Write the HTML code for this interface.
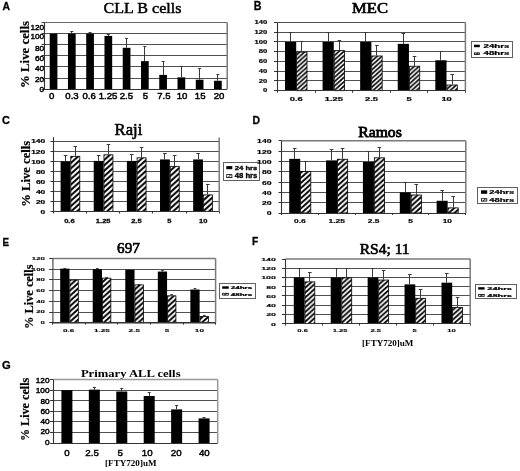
<!DOCTYPE html>
<html><head><meta charset="utf-8"><style>
html,body{margin:0;padding:0;background:#fff;}
body{width:520px;height:471px;overflow:hidden;}
svg{display:block;filter:grayscale(1);}
</style></head><body>
<svg width="520" height="471" viewBox="0 0 520 471">
<defs>
<pattern id="hatch" patternUnits="userSpaceOnUse" width="4.3" height="4.3">
<rect width="4.3" height="4.3" fill="#fff"/>
<path d="M-1.075,1.075 L1.075,-1.075 M0,4.3 L4.3,0 M3.225,5.375 L5.375,3.225" stroke="#000" stroke-width="1.45"/>
</pattern>
<pattern id="hatch2" patternUnits="userSpaceOnUse" width="3" height="3">
<rect width="3" height="3" fill="#fff"/>
<path d="M-0.75,0.75 L0.75,-0.75 M0,3 L3,0 M2.25,3.75 L3.75,2.25" stroke="#000" stroke-width="1"/>
</pattern>
<pattern id="hB" patternUnits="userSpaceOnUse" width="4.831" height="4.350"><rect width="4.831" height="4.350" fill="#fff"/><path d="M-1.208,1.087 L1.208,-1.087 M0,4.350 L4.831,0 M3.623,5.438 L6.039,3.262" stroke="#000" stroke-width="1.616"/></pattern><pattern id="hC" patternUnits="userSpaceOnUse" width="5.997" height="5.400"><rect width="5.997" height="5.400" fill="#fff"/><path d="M-1.499,1.350 L1.499,-1.350 M0,5.400 L5.997,0 M4.498,6.750 L7.497,4.050" stroke="#000" stroke-width="2.006"/></pattern><pattern id="hD" patternUnits="userSpaceOnUse" width="5.664" height="5.100"><rect width="5.664" height="5.100" fill="#fff"/><path d="M-1.416,1.275 L1.416,-1.275 M0,5.100 L5.664,0 M4.248,6.375 L7.080,3.825" stroke="#000" stroke-width="1.895"/></pattern><pattern id="hE" patternUnits="userSpaceOnUse" width="5.775" height="5.200"><rect width="5.775" height="5.200" fill="#fff"/><path d="M-1.444,1.300 L1.444,-1.300 M0,5.200 L5.775,0 M4.331,6.500 L7.219,3.900" stroke="#000" stroke-width="1.932"/></pattern><pattern id="hF" patternUnits="userSpaceOnUse" width="5.386" height="4.850"><rect width="5.386" height="4.850" fill="#fff"/><path d="M-1.347,1.212 L1.347,-1.212 M0,4.850 L5.386,0 M4.040,6.062 L6.733,3.637" stroke="#000" stroke-width="1.802"/></pattern>
</defs>
<rect width="520" height="471" fill="#fff"/>
<text transform="translate(2.50,10.00) scale(0.898,1)" font-family='"Liberation Sans", sans-serif' font-weight="bold" font-size="11.59" fill="#000" stroke="#000" stroke-width="0.3">A</text>
<text transform="translate(103.60,13.34) scale(1.035,1)" font-family='"Liberation Serif", serif' font-weight="normal" font-size="15.52" fill="#000" stroke="#000" stroke-width="0.5">CLL B cells</text>
<line x1="44.60" y1="78.50" x2="227.20" y2="78.50" stroke="#505050" stroke-width="1.0"/>
<line x1="44.60" y1="66.50" x2="227.20" y2="66.50" stroke="#505050" stroke-width="1.0"/>
<line x1="44.60" y1="55.50" x2="227.20" y2="55.50" stroke="#505050" stroke-width="1.0"/>
<line x1="44.60" y1="44.50" x2="227.20" y2="44.50" stroke="#505050" stroke-width="1.0"/>
<line x1="44.60" y1="33.50" x2="227.20" y2="33.50" stroke="#505050" stroke-width="1.0"/>
<line x1="44.60" y1="22.50" x2="227.20" y2="22.50" stroke="#6a6a6a" stroke-width="1.0"/>
<line x1="227.20" y1="22.50" x2="227.20" y2="89.10" stroke="#7a7a7a" stroke-width="1.5"/>
<rect x="49.70" y="33.60" width="7.70" height="55.50" fill="#000"/>
<line x1="53.50" y1="33.32" x2="53.50" y2="33.60" stroke="#383838" stroke-width="1"/>
<line x1="52.05" y1="33.50" x2="55.05" y2="33.50" stroke="#383838" stroke-width="1"/>
<rect x="67.96" y="33.60" width="7.70" height="55.50" fill="#000"/>
<line x1="71.50" y1="31.05" x2="71.50" y2="33.60" stroke="#383838" stroke-width="1"/>
<line x1="70.31" y1="31.50" x2="73.31" y2="31.50" stroke="#383838" stroke-width="1"/>
<rect x="86.22" y="33.60" width="7.70" height="55.50" fill="#000"/>
<line x1="90.50" y1="32.49" x2="90.50" y2="33.60" stroke="#383838" stroke-width="1"/>
<line x1="88.57" y1="32.50" x2="91.57" y2="32.50" stroke="#383838" stroke-width="1"/>
<rect x="104.48" y="35.93" width="7.70" height="53.17" fill="#000"/>
<line x1="108.50" y1="34.43" x2="108.50" y2="35.93" stroke="#383838" stroke-width="1"/>
<line x1="106.83" y1="34.50" x2="109.83" y2="34.50" stroke="#383838" stroke-width="1"/>
<rect x="122.74" y="47.81" width="7.70" height="41.29" fill="#000"/>
<line x1="126.50" y1="38.59" x2="126.50" y2="47.81" stroke="#383838" stroke-width="1"/>
<line x1="125.09" y1="38.50" x2="128.09" y2="38.50" stroke="#383838" stroke-width="1"/>
<rect x="141.00" y="61.13" width="7.70" height="27.97" fill="#000"/>
<line x1="144.50" y1="46.36" x2="144.50" y2="61.13" stroke="#383838" stroke-width="1"/>
<line x1="143.35" y1="46.50" x2="146.35" y2="46.50" stroke="#383838" stroke-width="1"/>
<rect x="159.26" y="74.89" width="7.70" height="14.21" fill="#000"/>
<line x1="163.50" y1="61.24" x2="163.50" y2="74.89" stroke="#383838" stroke-width="1"/>
<line x1="161.61" y1="61.50" x2="164.61" y2="61.50" stroke="#383838" stroke-width="1"/>
<rect x="177.52" y="77.33" width="7.70" height="11.77" fill="#000"/>
<line x1="181.50" y1="66.40" x2="181.50" y2="77.33" stroke="#383838" stroke-width="1"/>
<line x1="179.87" y1="66.50" x2="182.87" y2="66.50" stroke="#383838" stroke-width="1"/>
<rect x="195.78" y="79.72" width="7.70" height="9.38" fill="#000"/>
<line x1="199.50" y1="68.90" x2="199.50" y2="79.72" stroke="#383838" stroke-width="1"/>
<line x1="198.13" y1="68.50" x2="201.13" y2="68.50" stroke="#383838" stroke-width="1"/>
<rect x="214.04" y="80.77" width="7.70" height="8.33" fill="#000"/>
<line x1="217.50" y1="74.11" x2="217.50" y2="80.77" stroke="#383838" stroke-width="1"/>
<line x1="216.39" y1="74.50" x2="219.39" y2="74.50" stroke="#383838" stroke-width="1"/>
<line x1="44.50" y1="22.50" x2="44.50" y2="89.60" stroke="#333" stroke-width="1.1"/>
<line x1="44.10" y1="89.50" x2="227.20" y2="89.50" stroke="#333" stroke-width="1.1"/>
<line x1="41.60" y1="89.50" x2="44.60" y2="89.50" stroke="#333" stroke-width="1"/>
<line x1="41.60" y1="78.50" x2="44.60" y2="78.50" stroke="#333" stroke-width="1"/>
<line x1="41.60" y1="66.50" x2="44.60" y2="66.50" stroke="#333" stroke-width="1"/>
<line x1="41.60" y1="55.50" x2="44.60" y2="55.50" stroke="#333" stroke-width="1"/>
<line x1="41.60" y1="44.50" x2="44.60" y2="44.50" stroke="#333" stroke-width="1"/>
<line x1="41.60" y1="33.50" x2="44.60" y2="33.50" stroke="#333" stroke-width="1"/>
<line x1="41.60" y1="22.50" x2="44.60" y2="22.50" stroke="#333" stroke-width="1"/>
<text transform="translate(39.61,91.67) scale(1.030,1)" font-family='"Liberation Sans", sans-serif' font-weight="normal" font-size="8.03" fill="#000" stroke="#000" stroke-width="0.45">0</text>
<text transform="translate(35.02,82.17) scale(1.030,1)" font-family='"Liberation Sans", sans-serif' font-weight="normal" font-size="8.03" fill="#000" stroke="#000" stroke-width="0.45">20</text>
<text transform="translate(35.02,71.17) scale(1.030,1)" font-family='"Liberation Sans", sans-serif' font-weight="normal" font-size="8.03" fill="#000" stroke="#000" stroke-width="0.45">40</text>
<text transform="translate(35.02,60.77) scale(1.030,1)" font-family='"Liberation Sans", sans-serif' font-weight="normal" font-size="8.03" fill="#000" stroke="#000" stroke-width="0.45">60</text>
<text transform="translate(35.02,51.02) scale(1.030,1)" font-family='"Liberation Sans", sans-serif' font-weight="normal" font-size="8.03" fill="#000" stroke="#000" stroke-width="0.45">80</text>
<text transform="translate(30.39,39.37) scale(1.030,1)" font-family='"Liberation Sans", sans-serif' font-weight="normal" font-size="8.03" fill="#000" stroke="#000" stroke-width="0.45">100</text>
<text transform="translate(30.39,29.67) scale(1.030,1)" font-family='"Liberation Sans", sans-serif' font-weight="normal" font-size="8.03" fill="#000" stroke="#000" stroke-width="0.45">120</text>
<text transform="translate(49.08,99.31) scale(1.120,1)" font-family='"Liberation Sans", sans-serif' font-weight="normal" font-size="8.59" fill="#000" stroke="#000" stroke-width="0.45">0</text>
<text transform="translate(65.31,99.31) scale(1.120,1)" font-family='"Liberation Sans", sans-serif' font-weight="normal" font-size="8.59" fill="#000" stroke="#000" stroke-width="0.45">0.3</text>
<text transform="translate(82.46,99.31) scale(1.120,1)" font-family='"Liberation Sans", sans-serif' font-weight="normal" font-size="8.59" fill="#000" stroke="#000" stroke-width="0.45">0.6</text>
<text transform="translate(98.74,99.31) scale(1.120,1)" font-family='"Liberation Sans", sans-serif' font-weight="normal" font-size="8.59" fill="#000" stroke="#000" stroke-width="0.45">1.25</text>
<text transform="translate(119.66,99.31) scale(1.120,1)" font-family='"Liberation Sans", sans-serif' font-weight="normal" font-size="8.59" fill="#000" stroke="#000" stroke-width="0.45">2.5</text>
<text transform="translate(142.73,99.31) scale(1.120,1)" font-family='"Liberation Sans", sans-serif' font-weight="normal" font-size="8.59" fill="#000" stroke="#000" stroke-width="0.45">5</text>
<text transform="translate(157.16,99.31) scale(1.120,1)" font-family='"Liberation Sans", sans-serif' font-weight="normal" font-size="8.59" fill="#000" stroke="#000" stroke-width="0.45">7.5</text>
<text transform="translate(176.76,99.31) scale(1.120,1)" font-family='"Liberation Sans", sans-serif' font-weight="normal" font-size="8.59" fill="#000" stroke="#000" stroke-width="0.45">10</text>
<text transform="translate(194.86,99.31) scale(1.120,1)" font-family='"Liberation Sans", sans-serif' font-weight="normal" font-size="8.59" fill="#000" stroke="#000" stroke-width="0.45">15</text>
<text transform="translate(213.66,99.31) scale(1.120,1)" font-family='"Liberation Sans", sans-serif' font-weight="normal" font-size="8.59" fill="#000" stroke="#000" stroke-width="0.45">20</text>
<text transform="translate(28.60,88.00) rotate(-90)" font-family='"Liberation Serif", serif' font-weight="bold" font-size="12.84" fill="#000" stroke="#000" stroke-width="0.2">% Live cells</text>
<text transform="translate(253.80,9.60) scale(0.878,1)" font-family='"Liberation Sans", sans-serif' font-weight="bold" font-size="12.17" fill="#000" stroke="#000" stroke-width="0.3">B</text>
<text transform="translate(352.10,12.76) scale(1.142,1)" font-family='"Liberation Serif", serif' font-weight="normal" font-size="14.48" fill="#000" stroke="#000" stroke-width="0.65">MEC</text>
<line x1="277.50" y1="80.50" x2="465.40" y2="80.50" stroke="#505050" stroke-width="1.0"/>
<line x1="277.50" y1="71.50" x2="465.40" y2="71.50" stroke="#505050" stroke-width="1.0"/>
<line x1="277.50" y1="61.50" x2="465.40" y2="61.50" stroke="#505050" stroke-width="1.0"/>
<line x1="277.50" y1="51.50" x2="465.40" y2="51.50" stroke="#505050" stroke-width="1.0"/>
<line x1="277.50" y1="41.50" x2="465.40" y2="41.50" stroke="#505050" stroke-width="1.0"/>
<line x1="277.50" y1="32.50" x2="465.40" y2="32.50" stroke="#505050" stroke-width="1.0"/>
<line x1="277.50" y1="22.50" x2="465.40" y2="22.50" stroke="#505050" stroke-width="1.0"/>
<line x1="465.40" y1="22.40" x2="465.40" y2="90.70" stroke="#7a7a7a" stroke-width="1.5"/>
<rect x="285.00" y="41.91" width="11.20" height="48.79" fill="#000"/>
<line x1="290.50" y1="32.16" x2="290.50" y2="41.91" stroke="#383838" stroke-width="1"/>
<line x1="288.80" y1="32.50" x2="292.40" y2="32.50" stroke="#383838" stroke-width="1"/>
<rect x="296.60" y="52.07" width="10.40" height="38.63" fill="url(#hB)" stroke="#000" stroke-width="0.8"/>
<line x1="301.50" y1="41.91" x2="301.50" y2="51.67" stroke="#383838" stroke-width="1"/>
<line x1="300.00" y1="41.50" x2="303.60" y2="41.50" stroke="#383838" stroke-width="1"/>
<rect x="322.58" y="41.91" width="11.20" height="48.79" fill="#000"/>
<line x1="328.50" y1="32.16" x2="328.50" y2="41.91" stroke="#383838" stroke-width="1"/>
<line x1="326.38" y1="32.50" x2="329.98" y2="32.50" stroke="#383838" stroke-width="1"/>
<rect x="334.18" y="50.61" width="10.40" height="40.09" fill="url(#hB)" stroke="#000" stroke-width="0.8"/>
<line x1="339.50" y1="40.45" x2="339.50" y2="50.21" stroke="#383838" stroke-width="1"/>
<line x1="337.58" y1="40.50" x2="341.18" y2="40.50" stroke="#383838" stroke-width="1"/>
<rect x="360.16" y="41.91" width="11.20" height="48.79" fill="#000"/>
<line x1="365.50" y1="32.16" x2="365.50" y2="41.91" stroke="#383838" stroke-width="1"/>
<line x1="363.96" y1="32.50" x2="367.56" y2="32.50" stroke="#383838" stroke-width="1"/>
<rect x="371.76" y="55.97" width="10.40" height="34.73" fill="url(#hB)" stroke="#000" stroke-width="0.8"/>
<line x1="376.50" y1="45.82" x2="376.50" y2="55.57" stroke="#383838" stroke-width="1"/>
<line x1="375.16" y1="45.50" x2="378.76" y2="45.50" stroke="#383838" stroke-width="1"/>
<rect x="397.74" y="43.87" width="11.20" height="46.83" fill="#000"/>
<line x1="403.50" y1="33.91" x2="403.50" y2="43.87" stroke="#383838" stroke-width="1"/>
<line x1="401.54" y1="33.50" x2="405.14" y2="33.50" stroke="#383838" stroke-width="1"/>
<rect x="409.34" y="66.22" width="10.40" height="24.48" fill="url(#hB)" stroke="#000" stroke-width="0.8"/>
<line x1="414.50" y1="56.06" x2="414.50" y2="65.82" stroke="#383838" stroke-width="1"/>
<line x1="412.74" y1="56.50" x2="416.34" y2="56.50" stroke="#383838" stroke-width="1"/>
<rect x="435.32" y="60.26" width="11.20" height="30.44" fill="#000"/>
<line x1="440.50" y1="51.18" x2="440.50" y2="60.26" stroke="#383838" stroke-width="1"/>
<line x1="439.12" y1="51.50" x2="442.72" y2="51.50" stroke="#383838" stroke-width="1"/>
<rect x="446.92" y="85.00" width="10.40" height="5.70" fill="url(#hB)" stroke="#000" stroke-width="0.8"/>
<line x1="452.50" y1="74.80" x2="452.50" y2="84.60" stroke="#383838" stroke-width="1"/>
<line x1="450.32" y1="74.50" x2="453.92" y2="74.50" stroke="#383838" stroke-width="1"/>
<line x1="277.50" y1="22.40" x2="277.50" y2="91.20" stroke="#333" stroke-width="1.1"/>
<line x1="277.00" y1="90.50" x2="465.40" y2="90.50" stroke="#333" stroke-width="1.1"/>
<line x1="274.00" y1="90.50" x2="277.50" y2="90.50" stroke="#333" stroke-width="1"/>
<line x1="274.00" y1="80.50" x2="277.50" y2="80.50" stroke="#333" stroke-width="1"/>
<line x1="274.00" y1="71.50" x2="277.50" y2="71.50" stroke="#333" stroke-width="1"/>
<line x1="274.00" y1="61.50" x2="277.50" y2="61.50" stroke="#333" stroke-width="1"/>
<line x1="274.00" y1="51.50" x2="277.50" y2="51.50" stroke="#333" stroke-width="1"/>
<line x1="274.00" y1="41.50" x2="277.50" y2="41.50" stroke="#333" stroke-width="1"/>
<line x1="274.00" y1="32.50" x2="277.50" y2="32.50" stroke="#333" stroke-width="1"/>
<line x1="274.00" y1="22.50" x2="277.50" y2="22.50" stroke="#333" stroke-width="1"/>
<line x1="277.50" y1="90.70" x2="277.50" y2="92.70" stroke="#333" stroke-width="1"/>
<line x1="315.50" y1="90.70" x2="315.50" y2="92.70" stroke="#333" stroke-width="1"/>
<line x1="352.50" y1="90.70" x2="352.50" y2="92.70" stroke="#333" stroke-width="1"/>
<line x1="390.50" y1="90.70" x2="390.50" y2="92.70" stroke="#333" stroke-width="1"/>
<line x1="427.50" y1="90.70" x2="427.50" y2="92.70" stroke="#333" stroke-width="1"/>
<line x1="465.50" y1="90.70" x2="465.50" y2="92.70" stroke="#333" stroke-width="1"/>
<text transform="translate(263.04,92.30) scale(1.650,1)" font-family='"Liberation Sans", sans-serif' font-weight="bold" font-size="4.65" fill="#000" stroke="#000" stroke-width="0.15">0</text>
<text transform="translate(258.79,82.55) scale(1.650,1)" font-family='"Liberation Sans", sans-serif' font-weight="bold" font-size="4.65" fill="#000" stroke="#000" stroke-width="0.15">20</text>
<text transform="translate(258.79,72.79) scale(1.650,1)" font-family='"Liberation Sans", sans-serif' font-weight="bold" font-size="4.65" fill="#000" stroke="#000" stroke-width="0.15">40</text>
<text transform="translate(258.79,63.03) scale(1.650,1)" font-family='"Liberation Sans", sans-serif' font-weight="bold" font-size="4.65" fill="#000" stroke="#000" stroke-width="0.15">60</text>
<text transform="translate(258.79,53.27) scale(1.650,1)" font-family='"Liberation Sans", sans-serif' font-weight="bold" font-size="4.65" fill="#000" stroke="#000" stroke-width="0.15">80</text>
<text transform="translate(254.49,43.52) scale(1.650,1)" font-family='"Liberation Sans", sans-serif' font-weight="bold" font-size="4.65" fill="#000" stroke="#000" stroke-width="0.15">100</text>
<text transform="translate(254.49,33.76) scale(1.650,1)" font-family='"Liberation Sans", sans-serif' font-weight="bold" font-size="4.65" fill="#000" stroke="#000" stroke-width="0.15">120</text>
<text transform="translate(254.49,24.00) scale(1.650,1)" font-family='"Liberation Sans", sans-serif' font-weight="bold" font-size="4.65" fill="#000" stroke="#000" stroke-width="0.15">140</text>
<text transform="translate(289.80,100.55) scale(1.950,1)" font-family='"Liberation Sans", sans-serif' font-weight="bold" font-size="4.79" fill="#000" stroke="#000" stroke-width="0.15">0.6</text>
<text transform="translate(324.79,100.55) scale(1.950,1)" font-family='"Liberation Sans", sans-serif' font-weight="bold" font-size="4.79" fill="#000" stroke="#000" stroke-width="0.15">1.25</text>
<text transform="translate(364.96,100.55) scale(1.950,1)" font-family='"Liberation Sans", sans-serif' font-weight="bold" font-size="4.79" fill="#000" stroke="#000" stroke-width="0.15">2.5</text>
<text transform="translate(406.44,100.55) scale(1.950,1)" font-family='"Liberation Sans", sans-serif' font-weight="bold" font-size="4.79" fill="#000" stroke="#000" stroke-width="0.15">5</text>
<text transform="translate(441.43,100.55) scale(1.950,1)" font-family='"Liberation Sans", sans-serif' font-weight="bold" font-size="4.79" fill="#000" stroke="#000" stroke-width="0.15">10</text>
<rect x="471.50" y="41.50" width="41.00" height="16.00" fill="#fff" stroke="#606060" stroke-width="1"/>
<rect x="474.00" y="44.70" width="5.80" height="2.50" fill="#000"/>
<rect x="474.40" y="52.90" width="5.00" height="1.60" fill="#fff" stroke="#000" stroke-width="0.8"/>
<path d="M475.74,54.40 L478.35,53.00" stroke="#000" stroke-width="0.9" fill="none"/>
<text transform="translate(483.50,47.85) scale(1.828,1)" font-family='"Liberation Sans", sans-serif' font-weight="bold" font-size="5.31" fill="#000" stroke="#000" stroke-width="0.2">24hrs</text>
<text transform="translate(483.50,55.05) scale(1.927,1)" font-family='"Liberation Sans", sans-serif' font-weight="bold" font-size="5.03" fill="#000" stroke="#000" stroke-width="0.2">48hrs</text>
<text transform="translate(1.90,124.29) scale(1.032,1)" font-family='"Liberation Sans", sans-serif' font-weight="bold" font-size="10.56" fill="#000" stroke="#000" stroke-width="0.3">C</text>
<text transform="translate(114.60,135.40) scale(1.009,1)" font-family='"Liberation Serif", serif' font-weight="normal" font-size="16.49" fill="#000" stroke="#000" stroke-width="0.6">Raji</text>
<line x1="53.50" y1="201.50" x2="219.20" y2="201.50" stroke="#505050" stroke-width="1.0"/>
<line x1="53.50" y1="191.50" x2="219.20" y2="191.50" stroke="#505050" stroke-width="1.0"/>
<line x1="53.50" y1="181.50" x2="219.20" y2="181.50" stroke="#505050" stroke-width="1.0"/>
<line x1="53.50" y1="171.50" x2="219.20" y2="171.50" stroke="#505050" stroke-width="1.0"/>
<line x1="53.50" y1="161.50" x2="219.20" y2="161.50" stroke="#505050" stroke-width="1.0"/>
<line x1="53.50" y1="151.50" x2="219.20" y2="151.50" stroke="#505050" stroke-width="1.0"/>
<line x1="53.50" y1="141.50" x2="219.20" y2="141.50" stroke="#505050" stroke-width="1.0"/>
<line x1="219.20" y1="137.60" x2="219.20" y2="211.50" stroke="#7a7a7a" stroke-width="1.5"/>
<rect x="60.60" y="161.43" width="9.80" height="50.07" fill="#000"/>
<line x1="65.50" y1="155.92" x2="65.50" y2="161.43" stroke="#383838" stroke-width="1"/>
<line x1="63.70" y1="155.50" x2="67.30" y2="155.50" stroke="#383838" stroke-width="1"/>
<rect x="70.80" y="156.32" width="9.00" height="55.18" fill="url(#hC)" stroke="#000" stroke-width="0.8"/>
<line x1="75.50" y1="146.41" x2="75.50" y2="155.92" stroke="#383838" stroke-width="1"/>
<line x1="73.50" y1="146.50" x2="77.10" y2="146.50" stroke="#383838" stroke-width="1"/>
<rect x="93.74" y="160.93" width="9.80" height="50.57" fill="#000"/>
<line x1="98.50" y1="155.42" x2="98.50" y2="160.93" stroke="#383838" stroke-width="1"/>
<line x1="96.84" y1="155.50" x2="100.44" y2="155.50" stroke="#383838" stroke-width="1"/>
<rect x="103.94" y="154.82" width="9.00" height="56.68" fill="url(#hC)" stroke="#000" stroke-width="0.8"/>
<line x1="108.50" y1="144.40" x2="108.50" y2="154.42" stroke="#383838" stroke-width="1"/>
<line x1="106.64" y1="144.50" x2="110.24" y2="144.50" stroke="#383838" stroke-width="1"/>
<rect x="126.88" y="160.93" width="9.80" height="50.57" fill="#000"/>
<line x1="131.50" y1="154.92" x2="131.50" y2="160.93" stroke="#383838" stroke-width="1"/>
<line x1="129.98" y1="154.50" x2="133.58" y2="154.50" stroke="#383838" stroke-width="1"/>
<rect x="137.08" y="157.82" width="9.00" height="53.68" fill="url(#hC)" stroke="#000" stroke-width="0.8"/>
<line x1="141.50" y1="147.41" x2="141.50" y2="157.42" stroke="#383838" stroke-width="1"/>
<line x1="139.78" y1="147.50" x2="143.38" y2="147.50" stroke="#383838" stroke-width="1"/>
<rect x="160.02" y="159.43" width="9.80" height="52.07" fill="#000"/>
<line x1="164.50" y1="153.92" x2="164.50" y2="159.43" stroke="#383838" stroke-width="1"/>
<line x1="163.12" y1="153.50" x2="166.72" y2="153.50" stroke="#383838" stroke-width="1"/>
<rect x="170.22" y="166.34" width="9.00" height="45.16" fill="url(#hC)" stroke="#000" stroke-width="0.8"/>
<line x1="174.50" y1="155.92" x2="174.50" y2="165.94" stroke="#383838" stroke-width="1"/>
<line x1="172.92" y1="155.50" x2="176.52" y2="155.50" stroke="#383838" stroke-width="1"/>
<rect x="193.16" y="159.43" width="9.80" height="52.07" fill="#000"/>
<line x1="198.50" y1="153.92" x2="198.50" y2="159.43" stroke="#383838" stroke-width="1"/>
<line x1="196.26" y1="153.50" x2="199.86" y2="153.50" stroke="#383838" stroke-width="1"/>
<rect x="203.36" y="194.88" width="9.00" height="16.62" fill="url(#hC)" stroke="#000" stroke-width="0.8"/>
<line x1="207.50" y1="184.46" x2="207.50" y2="194.48" stroke="#383838" stroke-width="1"/>
<line x1="206.06" y1="184.50" x2="209.66" y2="184.50" stroke="#383838" stroke-width="1"/>
<line x1="53.50" y1="137.20" x2="53.50" y2="212.00" stroke="#333" stroke-width="1.1"/>
<line x1="53.00" y1="211.50" x2="219.20" y2="211.50" stroke="#333" stroke-width="1.1"/>
<line x1="50.50" y1="211.50" x2="53.50" y2="211.50" stroke="#333" stroke-width="1"/>
<line x1="50.50" y1="201.50" x2="53.50" y2="201.50" stroke="#333" stroke-width="1"/>
<line x1="50.50" y1="191.50" x2="53.50" y2="191.50" stroke="#333" stroke-width="1"/>
<line x1="50.50" y1="181.50" x2="53.50" y2="181.50" stroke="#333" stroke-width="1"/>
<line x1="50.50" y1="171.50" x2="53.50" y2="171.50" stroke="#333" stroke-width="1"/>
<line x1="50.50" y1="161.50" x2="53.50" y2="161.50" stroke="#333" stroke-width="1"/>
<line x1="50.50" y1="151.50" x2="53.50" y2="151.50" stroke="#333" stroke-width="1"/>
<line x1="50.50" y1="141.50" x2="53.50" y2="141.50" stroke="#333" stroke-width="1"/>
<line x1="53.50" y1="211.50" x2="53.50" y2="213.50" stroke="#333" stroke-width="1"/>
<line x1="86.50" y1="211.50" x2="86.50" y2="213.50" stroke="#333" stroke-width="1"/>
<line x1="119.50" y1="211.50" x2="119.50" y2="213.50" stroke="#333" stroke-width="1"/>
<line x1="152.50" y1="211.50" x2="152.50" y2="213.50" stroke="#333" stroke-width="1"/>
<line x1="186.50" y1="211.50" x2="186.50" y2="213.50" stroke="#333" stroke-width="1"/>
<line x1="219.50" y1="211.50" x2="219.50" y2="213.50" stroke="#333" stroke-width="1"/>
<text transform="translate(40.59,213.59) scale(1.400,1)" font-family='"Liberation Sans", sans-serif' font-weight="bold" font-size="6.06" fill="#000" stroke="#000" stroke-width="0.2">0</text>
<text transform="translate(35.89,203.58) scale(1.400,1)" font-family='"Liberation Sans", sans-serif' font-weight="bold" font-size="6.06" fill="#000" stroke="#000" stroke-width="0.2">20</text>
<text transform="translate(35.89,193.56) scale(1.400,1)" font-family='"Liberation Sans", sans-serif' font-weight="bold" font-size="6.06" fill="#000" stroke="#000" stroke-width="0.2">40</text>
<text transform="translate(35.89,183.55) scale(1.400,1)" font-family='"Liberation Sans", sans-serif' font-weight="bold" font-size="6.06" fill="#000" stroke="#000" stroke-width="0.2">60</text>
<text transform="translate(35.89,173.53) scale(1.400,1)" font-family='"Liberation Sans", sans-serif' font-weight="bold" font-size="6.06" fill="#000" stroke="#000" stroke-width="0.2">80</text>
<text transform="translate(31.14,163.52) scale(1.400,1)" font-family='"Liberation Sans", sans-serif' font-weight="bold" font-size="6.06" fill="#000" stroke="#000" stroke-width="0.2">100</text>
<text transform="translate(31.14,153.50) scale(1.400,1)" font-family='"Liberation Sans", sans-serif' font-weight="bold" font-size="6.06" fill="#000" stroke="#000" stroke-width="0.2">120</text>
<text transform="translate(31.14,143.49) scale(1.400,1)" font-family='"Liberation Sans", sans-serif' font-weight="bold" font-size="6.06" fill="#000" stroke="#000" stroke-width="0.2">140</text>
<text transform="translate(64.14,222.94) scale(1.250,1)" font-family='"Liberation Sans", sans-serif' font-weight="bold" font-size="6.06" fill="#000" stroke="#000" stroke-width="0.25">0.6</text>
<text transform="translate(95.84,222.94) scale(1.250,1)" font-family='"Liberation Sans", sans-serif' font-weight="bold" font-size="6.06" fill="#000" stroke="#000" stroke-width="0.25">1.25</text>
<text transform="translate(131.14,222.94) scale(1.250,1)" font-family='"Liberation Sans", sans-serif' font-weight="bold" font-size="6.06" fill="#000" stroke="#000" stroke-width="0.25">2.5</text>
<text transform="translate(167.30,222.94) scale(1.250,1)" font-family='"Liberation Sans", sans-serif' font-weight="bold" font-size="6.06" fill="#000" stroke="#000" stroke-width="0.25">5</text>
<text transform="translate(199.10,222.94) scale(1.250,1)" font-family='"Liberation Sans", sans-serif' font-weight="bold" font-size="6.06" fill="#000" stroke="#000" stroke-width="0.25">10</text>
<rect x="223.50" y="162.50" width="36.00" height="18.00" fill="#fff" stroke="#606060" stroke-width="1"/>
<rect x="226.30" y="166.10" width="6.00" height="3.10" fill="#000"/>
<rect x="226.70" y="174.60" width="5.20" height="3.00" fill="#fff" stroke="#000" stroke-width="0.8"/>
<path d="M228.10,177.50 L230.80,174.70" stroke="#000" stroke-width="0.9" fill="none"/>
<text transform="translate(234.70,169.64) scale(1.318,1)" font-family='"Liberation Sans", sans-serif' font-weight="bold" font-size="5.85" fill="#000" stroke="#000" stroke-width="0.3">24 hrs</text>
<text transform="translate(234.70,178.13) scale(1.156,1)" font-family='"Liberation Sans", sans-serif' font-weight="bold" font-size="6.67" fill="#000" stroke="#000" stroke-width="0.3">48 hrs</text>
<text transform="translate(29.50,206.70) rotate(-90)" font-family='"Liberation Serif", serif' font-weight="bold" font-size="12.62" fill="#000" stroke="#000" stroke-width="0.2">% Live cells</text>
<text transform="translate(252.50,123.75) scale(0.958,1)" font-family='"Liberation Sans", sans-serif' font-weight="bold" font-size="10.87" fill="#000" stroke="#000" stroke-width="0.3">D</text>
<text transform="translate(358.30,136.50) scale(1.015,1)" font-family='"Liberation Serif", serif' font-weight="normal" font-size="15.42" fill="#000" stroke="#000" stroke-width="0.85">Ramos</text>
<line x1="281.50" y1="202.50" x2="465.80" y2="202.50" stroke="#505050" stroke-width="1.0"/>
<line x1="281.50" y1="192.50" x2="465.80" y2="192.50" stroke="#505050" stroke-width="1.0"/>
<line x1="281.50" y1="182.50" x2="465.80" y2="182.50" stroke="#505050" stroke-width="1.0"/>
<line x1="281.50" y1="171.50" x2="465.80" y2="171.50" stroke="#505050" stroke-width="1.0"/>
<line x1="281.50" y1="161.50" x2="465.80" y2="161.50" stroke="#505050" stroke-width="1.0"/>
<line x1="281.50" y1="151.50" x2="465.80" y2="151.50" stroke="#505050" stroke-width="1.0"/>
<line x1="281.50" y1="140.80" x2="465.80" y2="140.80" stroke="#7a7a7a" stroke-width="1.5"/>
<line x1="465.80" y1="140.80" x2="465.80" y2="213.00" stroke="#7a7a7a" stroke-width="1.5"/>
<rect x="289.20" y="158.85" width="11.00" height="54.15" fill="#000"/>
<line x1="294.50" y1="148.54" x2="294.50" y2="158.85" stroke="#383838" stroke-width="1"/>
<line x1="292.90" y1="148.50" x2="296.50" y2="148.50" stroke="#383838" stroke-width="1"/>
<rect x="300.60" y="171.37" width="10.20" height="41.63" fill="url(#hD)" stroke="#000" stroke-width="0.8"/>
<line x1="305.50" y1="161.43" x2="305.50" y2="170.97" stroke="#383838" stroke-width="1"/>
<line x1="303.90" y1="161.50" x2="307.50" y2="161.50" stroke="#383838" stroke-width="1"/>
<rect x="326.06" y="160.40" width="11.00" height="52.60" fill="#000"/>
<line x1="331.50" y1="149.72" x2="331.50" y2="160.40" stroke="#383838" stroke-width="1"/>
<line x1="329.76" y1="149.50" x2="333.36" y2="149.50" stroke="#383838" stroke-width="1"/>
<rect x="337.46" y="159.25" width="10.20" height="53.75" fill="url(#hD)" stroke="#000" stroke-width="0.8"/>
<line x1="342.50" y1="148.54" x2="342.50" y2="158.85" stroke="#383838" stroke-width="1"/>
<line x1="340.76" y1="148.50" x2="344.36" y2="148.50" stroke="#383838" stroke-width="1"/>
<rect x="362.92" y="161.94" width="11.00" height="51.06" fill="#000"/>
<line x1="368.50" y1="151.84" x2="368.50" y2="161.94" stroke="#383838" stroke-width="1"/>
<line x1="366.62" y1="151.50" x2="370.22" y2="151.50" stroke="#383838" stroke-width="1"/>
<rect x="374.32" y="157.81" width="10.20" height="55.19" fill="url(#hD)" stroke="#000" stroke-width="0.8"/>
<line x1="379.50" y1="147.50" x2="379.50" y2="157.41" stroke="#383838" stroke-width="1"/>
<line x1="377.62" y1="147.50" x2="381.22" y2="147.50" stroke="#383838" stroke-width="1"/>
<rect x="399.78" y="192.37" width="11.00" height="20.63" fill="#000"/>
<line x1="405.50" y1="182.06" x2="405.50" y2="192.37" stroke="#383838" stroke-width="1"/>
<line x1="403.48" y1="182.50" x2="407.08" y2="182.50" stroke="#383838" stroke-width="1"/>
<rect x="411.18" y="194.99" width="10.20" height="18.01" fill="url(#hD)" stroke="#000" stroke-width="0.8"/>
<line x1="416.50" y1="184.38" x2="416.50" y2="194.59" stroke="#383838" stroke-width="1"/>
<line x1="414.48" y1="184.50" x2="418.08" y2="184.50" stroke="#383838" stroke-width="1"/>
<rect x="436.64" y="200.78" width="11.00" height="12.22" fill="#000"/>
<line x1="442.50" y1="190.36" x2="442.50" y2="200.78" stroke="#383838" stroke-width="1"/>
<line x1="440.34" y1="190.50" x2="443.94" y2="190.50" stroke="#383838" stroke-width="1"/>
<rect x="448.04" y="207.88" width="10.20" height="5.12" fill="url(#hD)" stroke="#000" stroke-width="0.8"/>
<line x1="453.50" y1="196.86" x2="453.50" y2="207.48" stroke="#383838" stroke-width="1"/>
<line x1="451.34" y1="196.50" x2="454.94" y2="196.50" stroke="#383838" stroke-width="1"/>
<line x1="281.50" y1="140.80" x2="281.50" y2="213.50" stroke="#333" stroke-width="1.1"/>
<line x1="281.00" y1="213.50" x2="465.80" y2="213.50" stroke="#333" stroke-width="1.1"/>
<line x1="278.50" y1="213.50" x2="281.50" y2="213.50" stroke="#333" stroke-width="1"/>
<line x1="278.50" y1="202.50" x2="281.50" y2="202.50" stroke="#333" stroke-width="1"/>
<line x1="278.50" y1="192.50" x2="281.50" y2="192.50" stroke="#333" stroke-width="1"/>
<line x1="278.50" y1="182.50" x2="281.50" y2="182.50" stroke="#333" stroke-width="1"/>
<line x1="278.50" y1="171.50" x2="281.50" y2="171.50" stroke="#333" stroke-width="1"/>
<line x1="278.50" y1="161.50" x2="281.50" y2="161.50" stroke="#333" stroke-width="1"/>
<line x1="278.50" y1="151.50" x2="281.50" y2="151.50" stroke="#333" stroke-width="1"/>
<line x1="278.50" y1="140.50" x2="281.50" y2="140.50" stroke="#333" stroke-width="1"/>
<line x1="281.50" y1="213.00" x2="281.50" y2="215.00" stroke="#333" stroke-width="1"/>
<line x1="318.50" y1="213.00" x2="318.50" y2="215.00" stroke="#333" stroke-width="1"/>
<line x1="355.50" y1="213.00" x2="355.50" y2="215.00" stroke="#333" stroke-width="1"/>
<line x1="392.50" y1="213.00" x2="392.50" y2="215.00" stroke="#333" stroke-width="1"/>
<line x1="428.50" y1="213.00" x2="428.50" y2="215.00" stroke="#333" stroke-width="1"/>
<line x1="465.50" y1="213.00" x2="465.50" y2="215.00" stroke="#333" stroke-width="1"/>
<text transform="translate(266.72,215.45) scale(1.800,1)" font-family='"Liberation Sans", sans-serif' font-weight="bold" font-size="4.79" fill="#000" stroke="#000" stroke-width="0.15">0</text>
<text transform="translate(261.93,205.14) scale(1.800,1)" font-family='"Liberation Sans", sans-serif' font-weight="bold" font-size="4.79" fill="#000" stroke="#000" stroke-width="0.15">20</text>
<text transform="translate(261.93,194.82) scale(1.800,1)" font-family='"Liberation Sans", sans-serif' font-weight="bold" font-size="4.79" fill="#000" stroke="#000" stroke-width="0.15">40</text>
<text transform="translate(261.93,184.51) scale(1.800,1)" font-family='"Liberation Sans", sans-serif' font-weight="bold" font-size="4.79" fill="#000" stroke="#000" stroke-width="0.15">60</text>
<text transform="translate(261.93,174.19) scale(1.800,1)" font-family='"Liberation Sans", sans-serif' font-weight="bold" font-size="4.79" fill="#000" stroke="#000" stroke-width="0.15">80</text>
<text transform="translate(257.11,163.88) scale(1.800,1)" font-family='"Liberation Sans", sans-serif' font-weight="bold" font-size="4.79" fill="#000" stroke="#000" stroke-width="0.15">100</text>
<text transform="translate(257.11,153.57) scale(1.800,1)" font-family='"Liberation Sans", sans-serif' font-weight="bold" font-size="4.79" fill="#000" stroke="#000" stroke-width="0.15">120</text>
<text transform="translate(257.11,143.25) scale(1.800,1)" font-family='"Liberation Sans", sans-serif' font-weight="bold" font-size="4.79" fill="#000" stroke="#000" stroke-width="0.15">140</text>
<text transform="translate(294.06,223.24) scale(1.500,1)" font-family='"Liberation Sans", sans-serif' font-weight="bold" font-size="5.63" fill="#000" stroke="#000" stroke-width="0.15">0.6</text>
<text transform="translate(328.57,223.24) scale(1.500,1)" font-family='"Liberation Sans", sans-serif' font-weight="bold" font-size="5.63" fill="#000" stroke="#000" stroke-width="0.15">1.25</text>
<text transform="translate(367.78,223.24) scale(1.500,1)" font-family='"Liberation Sans", sans-serif' font-weight="bold" font-size="5.63" fill="#000" stroke="#000" stroke-width="0.15">2.5</text>
<text transform="translate(408.16,223.24) scale(1.500,1)" font-family='"Liberation Sans", sans-serif' font-weight="bold" font-size="5.63" fill="#000" stroke="#000" stroke-width="0.15">5</text>
<text transform="translate(442.68,223.24) scale(1.500,1)" font-family='"Liberation Sans", sans-serif' font-weight="bold" font-size="5.63" fill="#000" stroke="#000" stroke-width="0.15">10</text>
<rect x="477.50" y="187.50" width="40.00" height="16.00" fill="#fff" stroke="#606060" stroke-width="1"/>
<rect x="481.00" y="190.30" width="6.20" height="3.50" fill="#000"/>
<rect x="481.40" y="198.70" width="5.40" height="2.40" fill="#fff" stroke="#000" stroke-width="0.8"/>
<path d="M482.86,201.00 L485.65,198.80" stroke="#000" stroke-width="0.9" fill="none"/>
<text transform="translate(489.30,193.95) scale(1.853,1)" font-family='"Liberation Sans", sans-serif' font-weight="bold" font-size="5.03" fill="#000" stroke="#000" stroke-width="0.2">24hrs</text>
<text transform="translate(489.30,201.65) scale(1.758,1)" font-family='"Liberation Sans", sans-serif' font-weight="bold" font-size="5.31" fill="#000" stroke="#000" stroke-width="0.2">48hrs</text>
<text transform="translate(2.50,246.00) scale(0.854,1)" font-family='"Liberation Sans", sans-serif' font-weight="bold" font-size="11.45" fill="#000" stroke="#000" stroke-width="0.3">E</text>
<text transform="translate(117.10,253.34) scale(0.975,1)" font-family='"Liberation Serif", serif' font-weight="normal" font-size="15.52" fill="#000" stroke="#000" stroke-width="0.7">697</text>
<line x1="52.90" y1="312.50" x2="215.60" y2="312.50" stroke="#505050" stroke-width="1.0"/>
<line x1="52.90" y1="301.50" x2="215.60" y2="301.50" stroke="#505050" stroke-width="1.0"/>
<line x1="52.90" y1="290.50" x2="215.60" y2="290.50" stroke="#505050" stroke-width="1.0"/>
<line x1="52.90" y1="279.50" x2="215.60" y2="279.50" stroke="#505050" stroke-width="1.0"/>
<line x1="52.90" y1="269.50" x2="215.60" y2="269.50" stroke="#505050" stroke-width="1.0"/>
<line x1="52.90" y1="258.50" x2="215.60" y2="258.50" stroke="#7a7a7a" stroke-width="1.5"/>
<line x1="215.60" y1="258.50" x2="215.60" y2="322.70" stroke="#7a7a7a" stroke-width="1.5"/>
<rect x="60.20" y="268.67" width="9.25" height="54.03" fill="#000"/>
<line x1="64.50" y1="268.13" x2="64.50" y2="268.67" stroke="#383838" stroke-width="1"/>
<line x1="63.52" y1="268.50" x2="66.12" y2="268.50" stroke="#383838" stroke-width="1"/>
<rect x="69.85" y="280.09" width="8.45" height="42.61" fill="url(#hE)" stroke="#000" stroke-width="0.8"/>
<line x1="74.50" y1="279.37" x2="74.50" y2="279.69" stroke="#383838" stroke-width="1"/>
<line x1="72.77" y1="279.50" x2="75.37" y2="279.50" stroke="#383838" stroke-width="1"/>
<rect x="92.74" y="269.20" width="9.25" height="53.50" fill="#000"/>
<line x1="97.50" y1="268.40" x2="97.50" y2="269.20" stroke="#383838" stroke-width="1"/>
<line x1="96.06" y1="268.50" x2="98.66" y2="268.50" stroke="#383838" stroke-width="1"/>
<rect x="102.39" y="278.16" width="8.45" height="44.54" fill="url(#hE)" stroke="#000" stroke-width="0.8"/>
<line x1="106.50" y1="277.23" x2="106.50" y2="277.76" stroke="#383838" stroke-width="1"/>
<line x1="105.31" y1="277.50" x2="107.91" y2="277.50" stroke="#383838" stroke-width="1"/>
<rect x="125.28" y="269.74" width="9.25" height="52.96" fill="#000"/>
<line x1="129.50" y1="269.20" x2="129.50" y2="269.74" stroke="#383838" stroke-width="1"/>
<line x1="128.60" y1="269.50" x2="131.20" y2="269.50" stroke="#383838" stroke-width="1"/>
<rect x="134.93" y="284.90" width="8.45" height="37.80" fill="url(#hE)" stroke="#000" stroke-width="0.8"/>
<line x1="139.50" y1="284.18" x2="139.50" y2="284.50" stroke="#383838" stroke-width="1"/>
<line x1="137.85" y1="284.50" x2="140.45" y2="284.50" stroke="#383838" stroke-width="1"/>
<rect x="157.82" y="271.55" width="9.25" height="51.15" fill="#000"/>
<line x1="162.50" y1="270.81" x2="162.50" y2="271.55" stroke="#383838" stroke-width="1"/>
<line x1="161.15" y1="270.50" x2="163.75" y2="270.50" stroke="#383838" stroke-width="1"/>
<rect x="167.47" y="295.81" width="8.45" height="26.88" fill="url(#hE)" stroke="#000" stroke-width="0.8"/>
<line x1="171.50" y1="294.88" x2="171.50" y2="295.42" stroke="#383838" stroke-width="1"/>
<line x1="170.40" y1="294.50" x2="173.00" y2="294.50" stroke="#383838" stroke-width="1"/>
<rect x="190.36" y="289.53" width="9.25" height="33.17" fill="#000"/>
<line x1="194.50" y1="289.00" x2="194.50" y2="289.53" stroke="#383838" stroke-width="1"/>
<line x1="193.69" y1="288.50" x2="196.29" y2="288.50" stroke="#383838" stroke-width="1"/>
<rect x="200.01" y="316.57" width="8.45" height="6.13" fill="url(#hE)" stroke="#000" stroke-width="0.8"/>
<line x1="204.50" y1="315.75" x2="204.50" y2="316.17" stroke="#383838" stroke-width="1"/>
<line x1="202.94" y1="315.50" x2="205.54" y2="315.50" stroke="#383838" stroke-width="1"/>
<line x1="52.90" y1="258.50" x2="52.90" y2="323.20" stroke="#666" stroke-width="1.4"/>
<line x1="52.40" y1="322.70" x2="215.60" y2="322.70" stroke="#333" stroke-width="1.4"/>
<line x1="49.20" y1="322.50" x2="52.90" y2="322.50" stroke="#333" stroke-width="1"/>
<line x1="49.20" y1="312.50" x2="52.90" y2="312.50" stroke="#333" stroke-width="1"/>
<line x1="49.20" y1="301.50" x2="52.90" y2="301.50" stroke="#333" stroke-width="1"/>
<line x1="49.20" y1="290.50" x2="52.90" y2="290.50" stroke="#333" stroke-width="1"/>
<line x1="49.20" y1="279.50" x2="52.90" y2="279.50" stroke="#333" stroke-width="1"/>
<line x1="49.20" y1="269.50" x2="52.90" y2="269.50" stroke="#333" stroke-width="1"/>
<line x1="49.20" y1="258.50" x2="52.90" y2="258.50" stroke="#333" stroke-width="1"/>
<line x1="52.50" y1="322.70" x2="52.50" y2="324.70" stroke="#333" stroke-width="1"/>
<line x1="85.50" y1="322.70" x2="85.50" y2="324.70" stroke="#333" stroke-width="1"/>
<line x1="117.50" y1="322.70" x2="117.50" y2="324.70" stroke="#333" stroke-width="1"/>
<line x1="150.50" y1="322.70" x2="150.50" y2="324.70" stroke="#333" stroke-width="1"/>
<line x1="183.50" y1="322.70" x2="183.50" y2="324.70" stroke="#333" stroke-width="1"/>
<line x1="215.50" y1="322.70" x2="215.50" y2="324.70" stroke="#333" stroke-width="1"/>
<text transform="translate(40.56,324.16) scale(1.850,1)" font-family='"Liberation Sans", sans-serif' font-weight="bold" font-size="4.23" fill="#000" stroke="#000" stroke-width="0.1">0</text>
<text transform="translate(36.22,313.46) scale(1.850,1)" font-family='"Liberation Sans", sans-serif' font-weight="bold" font-size="4.23" fill="#000" stroke="#000" stroke-width="0.1">20</text>
<text transform="translate(36.22,302.76) scale(1.850,1)" font-family='"Liberation Sans", sans-serif' font-weight="bold" font-size="4.23" fill="#000" stroke="#000" stroke-width="0.1">40</text>
<text transform="translate(36.22,292.06) scale(1.850,1)" font-family='"Liberation Sans", sans-serif' font-weight="bold" font-size="4.23" fill="#000" stroke="#000" stroke-width="0.1">60</text>
<text transform="translate(36.22,281.36) scale(1.850,1)" font-family='"Liberation Sans", sans-serif' font-weight="bold" font-size="4.23" fill="#000" stroke="#000" stroke-width="0.1">80</text>
<text transform="translate(31.85,270.66) scale(1.850,1)" font-family='"Liberation Sans", sans-serif' font-weight="bold" font-size="4.23" fill="#000" stroke="#000" stroke-width="0.1">100</text>
<text transform="translate(31.85,259.96) scale(1.850,1)" font-family='"Liberation Sans", sans-serif' font-weight="bold" font-size="4.23" fill="#000" stroke="#000" stroke-width="0.1">120</text>
<text transform="translate(63.02,331.66) scale(2.150,1)" font-family='"Liberation Sans", sans-serif' font-weight="bold" font-size="3.80" fill="#000" stroke="#000" stroke-width="0.1">0.6</text>
<text transform="translate(93.95,331.66) scale(2.150,1)" font-family='"Liberation Sans", sans-serif' font-weight="bold" font-size="3.80" fill="#000" stroke="#000" stroke-width="0.1">1.25</text>
<text transform="translate(128.62,331.66) scale(2.150,1)" font-family='"Liberation Sans", sans-serif' font-weight="bold" font-size="3.80" fill="#000" stroke="#000" stroke-width="0.1">2.5</text>
<text transform="translate(164.83,331.66) scale(2.150,1)" font-family='"Liberation Sans", sans-serif' font-weight="bold" font-size="3.80" fill="#000" stroke="#000" stroke-width="0.1">5</text>
<text transform="translate(194.86,331.66) scale(2.150,1)" font-family='"Liberation Sans", sans-serif' font-weight="bold" font-size="3.80" fill="#000" stroke="#000" stroke-width="0.1">10</text>
<rect x="219.50" y="283.50" width="36.00" height="15.00" fill="#fff" stroke="#606060" stroke-width="1"/>
<rect x="222.20" y="286.30" width="6.55" height="2.45" fill="#000"/>
<rect x="222.60" y="293.30" width="5.75" height="1.80" fill="#fff" stroke="#000" stroke-width="0.8"/>
<path d="M224.16,295.00 L227.11,293.40" stroke="#000" stroke-width="0.9" fill="none"/>
<text transform="translate(230.70,288.96) scale(2.202,1)" font-family='"Liberation Sans", sans-serif' font-weight="bold" font-size="3.67" fill="#000" stroke="#000" stroke-width="0.2">24hrs</text>
<text transform="translate(230.70,295.76) scale(2.124,1)" font-family='"Liberation Sans", sans-serif' font-weight="bold" font-size="3.81" fill="#000" stroke="#000" stroke-width="0.2">48hrs</text>
<text transform="translate(32.60,329.00) rotate(-90)" font-family='"Liberation Serif", serif' font-weight="bold" font-size="12.36" fill="#000" stroke="#000" stroke-width="0.2">% Live cells</text>
<text transform="translate(251.90,245.25) scale(0.905,1)" font-family='"Liberation Sans", sans-serif' font-weight="bold" font-size="11.23" fill="#000" stroke="#000" stroke-width="0.3">F</text>
<text transform="translate(359.75,253.85) scale(1.014,1)" font-family='"Liberation Serif", serif' font-weight="normal" font-size="15.30" fill="#000" stroke="#000" stroke-width="0.65">RS4; 11</text>
<line x1="285.60" y1="314.50" x2="470.20" y2="314.50" stroke="#505050" stroke-width="1.0"/>
<line x1="285.60" y1="305.50" x2="470.20" y2="305.50" stroke="#505050" stroke-width="1.0"/>
<line x1="285.60" y1="295.50" x2="470.20" y2="295.50" stroke="#505050" stroke-width="1.0"/>
<line x1="285.60" y1="286.50" x2="470.20" y2="286.50" stroke="#505050" stroke-width="1.0"/>
<line x1="285.60" y1="277.50" x2="470.20" y2="277.50" stroke="#505050" stroke-width="1.0"/>
<line x1="285.60" y1="268.50" x2="470.20" y2="268.50" stroke="#505050" stroke-width="1.0"/>
<line x1="285.60" y1="259.00" x2="470.20" y2="259.00" stroke="#7a7a7a" stroke-width="1.5"/>
<line x1="470.20" y1="259.00" x2="470.20" y2="323.60" stroke="#7a7a7a" stroke-width="1.5"/>
<rect x="293.80" y="277.46" width="10.70" height="46.14" fill="#000"/>
<line x1="299.50" y1="268.23" x2="299.50" y2="277.46" stroke="#383838" stroke-width="1"/>
<line x1="297.35" y1="268.50" x2="300.95" y2="268.50" stroke="#383838" stroke-width="1"/>
<rect x="304.90" y="281.87" width="9.90" height="41.73" fill="url(#hF)" stroke="#000" stroke-width="0.8"/>
<line x1="309.50" y1="272.43" x2="309.50" y2="281.47" stroke="#383838" stroke-width="1"/>
<line x1="308.05" y1="272.50" x2="311.65" y2="272.50" stroke="#383838" stroke-width="1"/>
<rect x="330.72" y="277.46" width="10.70" height="46.14" fill="#000"/>
<line x1="336.50" y1="268.23" x2="336.50" y2="277.46" stroke="#383838" stroke-width="1"/>
<line x1="334.27" y1="268.50" x2="337.87" y2="268.50" stroke="#383838" stroke-width="1"/>
<rect x="341.82" y="277.86" width="9.90" height="45.74" fill="url(#hF)" stroke="#000" stroke-width="0.8"/>
<line x1="346.50" y1="268.23" x2="346.50" y2="277.46" stroke="#383838" stroke-width="1"/>
<line x1="344.97" y1="268.50" x2="348.57" y2="268.50" stroke="#383838" stroke-width="1"/>
<rect x="367.64" y="277.46" width="10.70" height="46.14" fill="#000"/>
<line x1="372.50" y1="268.23" x2="372.50" y2="277.46" stroke="#383838" stroke-width="1"/>
<line x1="371.19" y1="268.50" x2="374.79" y2="268.50" stroke="#383838" stroke-width="1"/>
<rect x="378.74" y="280.03" width="9.90" height="43.57" fill="url(#hF)" stroke="#000" stroke-width="0.8"/>
<line x1="383.50" y1="270.77" x2="383.50" y2="279.63" stroke="#383838" stroke-width="1"/>
<line x1="381.89" y1="270.50" x2="385.49" y2="270.50" stroke="#383838" stroke-width="1"/>
<rect x="404.56" y="284.38" width="10.70" height="39.22" fill="#000"/>
<line x1="409.50" y1="274.73" x2="409.50" y2="284.38" stroke="#383838" stroke-width="1"/>
<line x1="408.11" y1="274.50" x2="411.71" y2="274.50" stroke="#383838" stroke-width="1"/>
<rect x="415.66" y="298.30" width="9.90" height="25.30" fill="url(#hF)" stroke="#000" stroke-width="0.8"/>
<line x1="420.50" y1="289.45" x2="420.50" y2="297.90" stroke="#383838" stroke-width="1"/>
<line x1="418.81" y1="289.50" x2="422.41" y2="289.50" stroke="#383838" stroke-width="1"/>
<rect x="441.48" y="282.67" width="10.70" height="40.93" fill="#000"/>
<line x1="446.50" y1="273.35" x2="446.50" y2="282.67" stroke="#383838" stroke-width="1"/>
<line x1="445.03" y1="273.50" x2="448.63" y2="273.50" stroke="#383838" stroke-width="1"/>
<rect x="452.58" y="307.53" width="9.90" height="16.07" fill="url(#hF)" stroke="#000" stroke-width="0.8"/>
<line x1="457.50" y1="297.90" x2="457.50" y2="307.13" stroke="#383838" stroke-width="1"/>
<line x1="455.73" y1="297.50" x2="459.33" y2="297.50" stroke="#383838" stroke-width="1"/>
<line x1="285.50" y1="259.00" x2="285.50" y2="324.10" stroke="#333" stroke-width="1.1"/>
<line x1="285.10" y1="323.50" x2="470.20" y2="323.50" stroke="#333" stroke-width="1.1"/>
<line x1="281.90" y1="323.50" x2="285.60" y2="323.50" stroke="#333" stroke-width="1"/>
<line x1="281.90" y1="314.50" x2="285.60" y2="314.50" stroke="#333" stroke-width="1"/>
<line x1="281.90" y1="305.50" x2="285.60" y2="305.50" stroke="#333" stroke-width="1"/>
<line x1="281.90" y1="295.50" x2="285.60" y2="295.50" stroke="#333" stroke-width="1"/>
<line x1="281.90" y1="286.50" x2="285.60" y2="286.50" stroke="#333" stroke-width="1"/>
<line x1="281.90" y1="277.50" x2="285.60" y2="277.50" stroke="#333" stroke-width="1"/>
<line x1="281.90" y1="268.50" x2="285.60" y2="268.50" stroke="#333" stroke-width="1"/>
<line x1="281.90" y1="259.50" x2="285.60" y2="259.50" stroke="#333" stroke-width="1"/>
<line x1="285.50" y1="323.60" x2="285.50" y2="325.60" stroke="#333" stroke-width="1"/>
<line x1="322.50" y1="323.60" x2="322.50" y2="325.60" stroke="#333" stroke-width="1"/>
<line x1="359.50" y1="323.60" x2="359.50" y2="325.60" stroke="#333" stroke-width="1"/>
<line x1="396.50" y1="323.60" x2="396.50" y2="325.60" stroke="#333" stroke-width="1"/>
<line x1="433.50" y1="323.60" x2="433.50" y2="325.60" stroke="#333" stroke-width="1"/>
<line x1="470.50" y1="323.60" x2="470.50" y2="325.60" stroke="#333" stroke-width="1"/>
<text transform="translate(271.08,325.56) scale(2.250,1)" font-family='"Liberation Sans", sans-serif' font-weight="bold" font-size="3.94" fill="#000" stroke="#000" stroke-width="0.1">0</text>
<text transform="translate(266.15,316.33) scale(2.250,1)" font-family='"Liberation Sans", sans-serif' font-weight="bold" font-size="3.94" fill="#000" stroke="#000" stroke-width="0.1">20</text>
<text transform="translate(266.15,307.10) scale(2.250,1)" font-family='"Liberation Sans", sans-serif' font-weight="bold" font-size="3.94" fill="#000" stroke="#000" stroke-width="0.1">40</text>
<text transform="translate(266.15,297.87) scale(2.250,1)" font-family='"Liberation Sans", sans-serif' font-weight="bold" font-size="3.94" fill="#000" stroke="#000" stroke-width="0.1">60</text>
<text transform="translate(266.15,288.65) scale(2.250,1)" font-family='"Liberation Sans", sans-serif' font-weight="bold" font-size="3.94" fill="#000" stroke="#000" stroke-width="0.1">80</text>
<text transform="translate(261.18,279.42) scale(2.250,1)" font-family='"Liberation Sans", sans-serif' font-weight="bold" font-size="3.94" fill="#000" stroke="#000" stroke-width="0.1">100</text>
<text transform="translate(261.18,270.19) scale(2.250,1)" font-family='"Liberation Sans", sans-serif' font-weight="bold" font-size="3.94" fill="#000" stroke="#000" stroke-width="0.1">120</text>
<text transform="translate(261.18,260.96) scale(2.250,1)" font-family='"Liberation Sans", sans-serif' font-weight="bold" font-size="3.94" fill="#000" stroke="#000" stroke-width="0.1">140</text>
<text transform="translate(297.31,331.96) scale(2.000,1)" font-family='"Liberation Sans", sans-serif' font-weight="bold" font-size="3.80" fill="#000" stroke="#000" stroke-width="0.1">0.6</text>
<text transform="translate(332.70,331.96) scale(2.000,1)" font-family='"Liberation Sans", sans-serif' font-weight="bold" font-size="3.80" fill="#000" stroke="#000" stroke-width="0.1">1.25</text>
<text transform="translate(370.51,331.96) scale(2.000,1)" font-family='"Liberation Sans", sans-serif' font-weight="bold" font-size="3.80" fill="#000" stroke="#000" stroke-width="0.1">2.5</text>
<text transform="translate(412.49,331.96) scale(2.000,1)" font-family='"Liberation Sans", sans-serif' font-weight="bold" font-size="3.80" fill="#000" stroke="#000" stroke-width="0.1">5</text>
<text transform="translate(447.18,331.96) scale(2.000,1)" font-family='"Liberation Sans", sans-serif' font-weight="bold" font-size="3.80" fill="#000" stroke="#000" stroke-width="0.1">10</text>
<rect x="475.50" y="284.50" width="41.00" height="14.00" fill="#fff" stroke="#606060" stroke-width="1"/>
<rect x="478.20" y="287.20" width="6.40" height="2.40" fill="#000"/>
<rect x="478.60" y="294.40" width="5.60" height="1.90" fill="#fff" stroke="#000" stroke-width="0.8"/>
<path d="M480.12,296.20 L483.00,294.50" stroke="#000" stroke-width="0.9" fill="none"/>
<text transform="translate(487.20,289.76) scale(2.142,1)" font-family='"Liberation Sans", sans-serif' font-weight="bold" font-size="4.35" fill="#000" stroke="#000" stroke-width="0.2">24hrs</text>
<text transform="translate(487.20,296.96) scale(2.142,1)" font-family='"Liberation Sans", sans-serif' font-weight="bold" font-size="4.35" fill="#000" stroke="#000" stroke-width="0.2">48hrs</text>
<text transform="translate(362.10,345.65) scale(0.978,1)" font-family='"Liberation Serif", serif' font-weight="bold" font-size="9.28" fill="#000">[FTY720]uM</text>
<text transform="translate(1.90,368.89) scale(1.022,1)" font-family='"Liberation Sans", sans-serif' font-weight="bold" font-size="10.92" fill="#000" stroke="#000" stroke-width="0.3">G</text>
<text transform="translate(80.90,377.20) scale(1.128,1)" font-family='"Liberation Serif", serif' font-weight="bold" font-size="11.21" fill="#000">Primary ALL cells</text>
<line x1="53.10" y1="432.50" x2="217.70" y2="432.50" stroke="#505050" stroke-width="1.0"/>
<line x1="53.10" y1="421.50" x2="217.70" y2="421.50" stroke="#505050" stroke-width="1.0"/>
<line x1="53.10" y1="411.50" x2="217.70" y2="411.50" stroke="#505050" stroke-width="1.0"/>
<line x1="53.10" y1="400.50" x2="217.70" y2="400.50" stroke="#505050" stroke-width="1.0"/>
<line x1="53.10" y1="390.50" x2="217.70" y2="390.50" stroke="#505050" stroke-width="1.0"/>
<line x1="53.10" y1="379.60" x2="217.70" y2="379.60" stroke="#9a9a9a" stroke-width="1.5"/>
<line x1="217.70" y1="379.60" x2="217.70" y2="443.10" stroke="#9a9a9a" stroke-width="1.5"/>
<rect x="61.40" y="390.18" width="11.00" height="52.92" fill="#000"/>
<rect x="88.83" y="389.65" width="11.00" height="53.45" fill="#000"/>
<line x1="94.50" y1="387.27" x2="94.50" y2="389.65" stroke="#383838" stroke-width="1"/>
<line x1="92.83" y1="387.50" x2="95.83" y2="387.50" stroke="#383838" stroke-width="1"/>
<rect x="116.27" y="391.51" width="11.00" height="51.59" fill="#000"/>
<line x1="121.50" y1="388.28" x2="121.50" y2="391.51" stroke="#383838" stroke-width="1"/>
<line x1="120.27" y1="388.50" x2="123.27" y2="388.50" stroke="#383838" stroke-width="1"/>
<rect x="143.70" y="396.00" width="11.00" height="47.10" fill="#000"/>
<line x1="149.50" y1="392.51" x2="149.50" y2="396.00" stroke="#383838" stroke-width="1"/>
<line x1="147.70" y1="392.50" x2="150.70" y2="392.50" stroke="#383838" stroke-width="1"/>
<rect x="171.13" y="409.39" width="11.00" height="33.71" fill="#000"/>
<line x1="176.50" y1="405.53" x2="176.50" y2="409.39" stroke="#383838" stroke-width="1"/>
<line x1="175.13" y1="405.50" x2="178.13" y2="405.50" stroke="#383838" stroke-width="1"/>
<rect x="198.57" y="418.39" width="11.00" height="24.71" fill="#000"/>
<line x1="204.50" y1="417.01" x2="204.50" y2="418.39" stroke="#383838" stroke-width="1"/>
<line x1="202.57" y1="417.50" x2="205.57" y2="417.50" stroke="#383838" stroke-width="1"/>
<line x1="53.50" y1="379.60" x2="53.50" y2="443.60" stroke="#333" stroke-width="1.1"/>
<line x1="52.60" y1="443.50" x2="217.70" y2="443.50" stroke="#333" stroke-width="1.1"/>
<line x1="50.10" y1="443.50" x2="53.10" y2="443.50" stroke="#333" stroke-width="1"/>
<line x1="50.10" y1="432.50" x2="53.10" y2="432.50" stroke="#333" stroke-width="1"/>
<line x1="50.10" y1="421.50" x2="53.10" y2="421.50" stroke="#333" stroke-width="1"/>
<line x1="50.10" y1="411.50" x2="53.10" y2="411.50" stroke="#333" stroke-width="1"/>
<line x1="50.10" y1="400.50" x2="53.10" y2="400.50" stroke="#333" stroke-width="1"/>
<line x1="50.10" y1="390.50" x2="53.10" y2="390.50" stroke="#333" stroke-width="1"/>
<line x1="50.10" y1="379.50" x2="53.10" y2="379.50" stroke="#333" stroke-width="1"/>
<text transform="translate(45.00,444.62) scale(1.050,1)" font-family='"Liberation Sans", sans-serif' font-weight="normal" font-size="7.89" fill="#000" stroke="#000" stroke-width="0.45">0</text>
<text transform="translate(40.41,434.22) scale(1.050,1)" font-family='"Liberation Sans", sans-serif' font-weight="normal" font-size="7.89" fill="#000" stroke="#000" stroke-width="0.45">20</text>
<text transform="translate(40.41,423.97) scale(1.050,1)" font-family='"Liberation Sans", sans-serif' font-weight="normal" font-size="7.89" fill="#000" stroke="#000" stroke-width="0.45">40</text>
<text transform="translate(40.41,413.72) scale(1.050,1)" font-family='"Liberation Sans", sans-serif' font-weight="normal" font-size="7.89" fill="#000" stroke="#000" stroke-width="0.45">60</text>
<text transform="translate(40.41,403.72) scale(1.050,1)" font-family='"Liberation Sans", sans-serif' font-weight="normal" font-size="7.89" fill="#000" stroke="#000" stroke-width="0.45">80</text>
<text transform="translate(35.77,392.62) scale(1.050,1)" font-family='"Liberation Sans", sans-serif' font-weight="normal" font-size="7.89" fill="#000" stroke="#000" stroke-width="0.45">100</text>
<text transform="translate(35.77,382.72) scale(1.050,1)" font-family='"Liberation Sans", sans-serif' font-weight="normal" font-size="7.89" fill="#000" stroke="#000" stroke-width="0.45">120</text>
<text transform="translate(64.29,456.20) scale(1.020,1)" font-family='"Liberation Sans", sans-serif' font-weight="normal" font-size="9.58" fill="#000" stroke="#000" stroke-width="0.45">0</text>
<text transform="translate(85.31,456.20) scale(1.020,1)" font-family='"Liberation Sans", sans-serif' font-weight="normal" font-size="9.58" fill="#000" stroke="#000" stroke-width="0.45">2.5</text>
<text transform="translate(117.49,456.20) scale(1.020,1)" font-family='"Liberation Sans", sans-serif' font-weight="normal" font-size="9.58" fill="#000" stroke="#000" stroke-width="0.45">5</text>
<text transform="translate(141.78,456.20) scale(1.020,1)" font-family='"Liberation Sans", sans-serif' font-weight="normal" font-size="9.58" fill="#000" stroke="#000" stroke-width="0.45">10</text>
<text transform="translate(170.78,456.20) scale(1.020,1)" font-family='"Liberation Sans", sans-serif' font-weight="normal" font-size="9.58" fill="#000" stroke="#000" stroke-width="0.45">20</text>
<text transform="translate(198.88,456.20) scale(1.020,1)" font-family='"Liberation Sans", sans-serif' font-weight="normal" font-size="9.58" fill="#000" stroke="#000" stroke-width="0.45">40</text>
<text transform="translate(105.10,466.24) scale(1.161,1)" font-family='"Liberation Serif", serif' font-weight="bold" font-size="7.83" fill="#000">[FTY720]uM</text>
<text transform="translate(28.60,441.10) rotate(-90)" font-family='"Liberation Serif", serif' font-weight="bold" font-size="12.15" fill="#000" stroke="#000" stroke-width="0.2">% Live cells</text>
</svg>
</body></html>
